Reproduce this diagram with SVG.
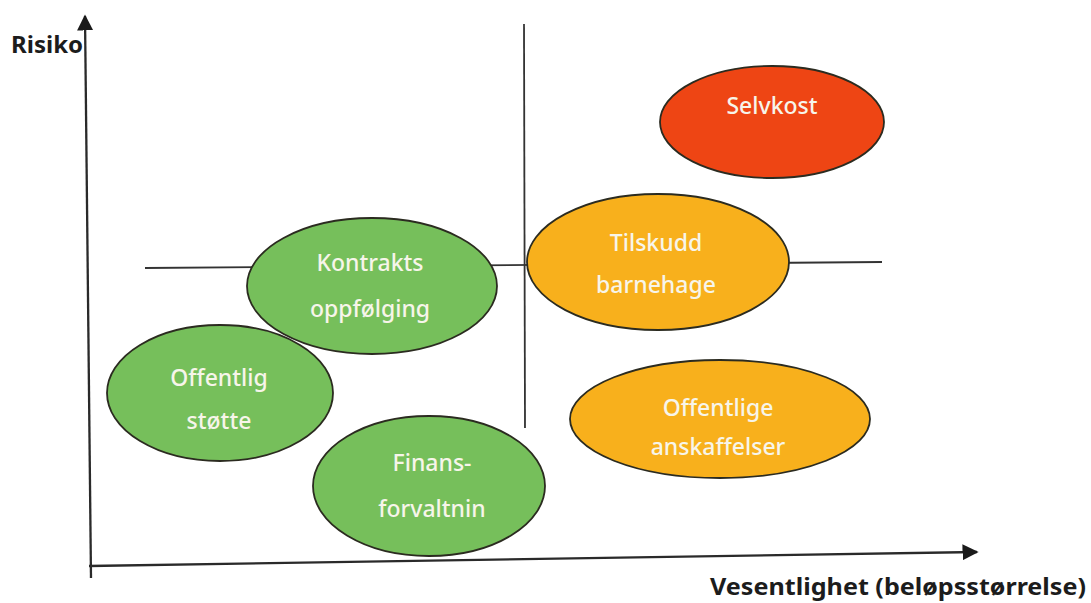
<svg xmlns="http://www.w3.org/2000/svg" width="1091" height="603" viewBox="0 0 1091 603">
  <defs>
    <marker id="arrow" viewBox="0 0 10 10" refX="9" refY="5" markerWidth="7" markerHeight="7" markerUnits="strokeWidth" orient="auto">
      <path d="M0,0 L10,5 L0,10 z" fill="#1a1a1a"/>
    </marker>
    <style>
      .axis { stroke: #2a2a2a; stroke-width: 2.3; fill: none; }
      .div { stroke: #333333; stroke-width: 1.8; fill: none; }
      .node { stroke: #2b2b20; stroke-width: 1.8; }
      .green { fill: #76bf5b; }
      .orange { fill: #f8b01c; }
      .red { fill: #ee4514; }
      .lbl { font-family: "Noto Sans", "Liberation Sans", sans-serif; font-size: 23px; font-weight: 500; fill: #f7f5ea; text-anchor: middle; }
      .axlbl { font-family: "Noto Sans", "Liberation Sans", sans-serif; font-weight: 700; fill: #1c1c1c; }
    </style>
  </defs>
  <rect width="1091" height="603" fill="#ffffff"/>
  <g id="connectors">
    <line class="axis" x1="91" y1="578" x2="85" y2="16" marker-end="url(#arrow)"/>
    <line class="axis" x1="89" y1="566" x2="977" y2="552" marker-end="url(#arrow)"/>
    <line class="div" x1="524" y1="24" x2="525" y2="428"/>
    <line class="div" x1="145" y1="268" x2="882" y2="262"/>
  </g>
  <g id="axis-labels">
    <text class="axlbl" x="11" y="53" font-size="24">Risiko</text>
    <text class="axlbl" x="710" y="595" font-size="23" textLength="376" lengthAdjust="spacingAndGlyphs">Vesentlighet (beløpsstørrelse)</text>
  </g>
  <g id="selvkost">
    <ellipse class="node red" cx="772" cy="122" rx="112" ry="56"/>
    <text class="lbl" x="772" y="114">Selvkost</text>
  </g>
  <g id="tilskudd-barnehage">
    <ellipse class="node orange" cx="658" cy="262" rx="131" ry="68"/>
    <text class="lbl" x="656" y="251">Tilskudd</text>
    <text class="lbl" x="656" y="293">barnehage</text>
  </g>
  <g id="offentlige-anskaffelser">
    <ellipse class="node orange" cx="720" cy="419" rx="150" ry="59"/>
    <text class="lbl" x="718" y="416">Offentlige</text>
    <text class="lbl" x="718" y="455">anskaffelser</text>
  </g>
  <g id="kontrakts-oppfolging">
    <ellipse class="node green" cx="372" cy="286" rx="125" ry="68"/>
    <text class="lbl" x="370" y="271">Kontrakts</text>
    <text class="lbl" x="370" y="317">oppfølging</text>
  </g>
  <g id="offentlig-stotte">
    <ellipse class="node green" cx="220" cy="393" rx="113" ry="68"/>
    <text class="lbl" x="219" y="386">Offentlig</text>
    <text class="lbl" x="219" y="429">støtte</text>
  </g>
  <g id="finansforvaltning">
    <ellipse class="node green" cx="429" cy="486" rx="116" ry="70"/>
    <text class="lbl" x="432" y="471">Finans-</text>
    <text class="lbl" x="432" y="517">forvaltnin</text>
  </g>
</svg>
